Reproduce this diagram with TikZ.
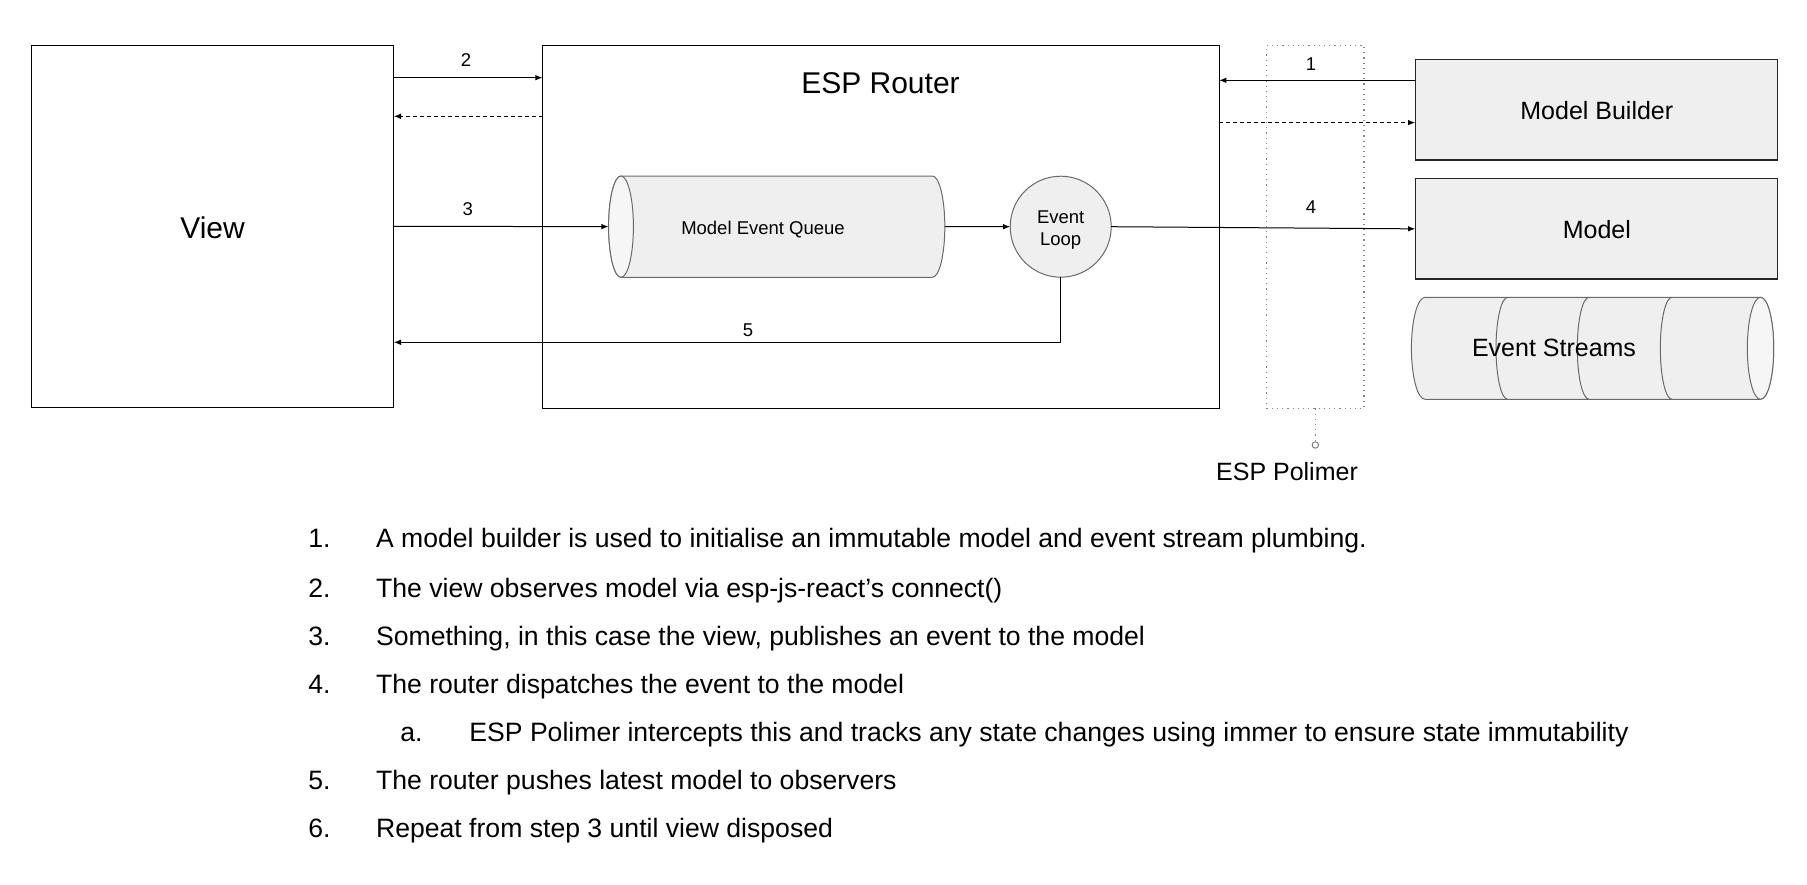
\documentclass[tikz,border=0pt]{standalone}
\usepackage{fontspec}
\setmainfont{Liberation Sans}
\usetikzlibrary{arrows.meta}
\definecolor{boxfill}{HTML}{EFEFEF}
\definecolor{facefill}{HTML}{F6F6F6}
\definecolor{shapeline}{HTML}{6A6A6A}
\definecolor{dotgray}{HTML}{858585}
\newcommand\fsHuge{\fontsize{15}{18}\selectfont}
\newcommand\fsMid{\fontsize{12.5}{15}\selectfont}
\newcommand\fsList{\fontsize{13.3}{16}\selectfont}
\newcommand\fsSmall{\fontsize{9.25}{11}\selectfont}
\begin{document}
\begin{tikzpicture}[x=0.5pt,y=-0.5pt,
  box/.style={draw=black, line width=0.65pt, inner sep=0pt, outer sep=0pt},
  greybox/.style={box, fill=boxfill, draw=black!85},
  ghost/.style={inner sep=0pt, outer sep=0pt},
  cyl/.style={draw=shapeline, line width=0.5pt, fill=boxfill},
  face/.style={draw=shapeline, line width=0.5pt, fill=facefill},
  arr/.style={draw=black, line width=0.5pt, -{Latex[length=3.6pt,width=2.8pt]}},
  dasharr/.style={arr, dash pattern=on 2pt off 1.5pt},
  num/.style={font=\fsSmall, inner sep=0pt},
  listnum/.style={font=\fsList, anchor=base west, inner sep=0pt},
]
\useasboundingbox (0,0) rectangle (1807,884);

% main boxes
\node[box, minimum width=181.2pt, minimum height=181pt] (view) at (212.6,226.3) {};
\node[font=\fsHuge, inner sep=0pt] (viewlbl) at (212.6,227.5) {View};
\node[box, minimum width=338.35pt, minimum height=181.5pt] (router) at (880.85,226.8) {};
\node[font=\fsHuge, inner sep=0pt] (routerlbl) at (880.5,83.3) {ESP Router};

\node[greybox, minimum width=181.2pt, minimum height=50.15pt] (mb) at (1596.4,109.85) {};
\node[font=\fsMid, inner sep=0pt] (mblbl) at (1596.8,111) {Model Builder};
\node[greybox, minimum width=181.2pt, minimum height=50.15pt] (model) at (1596.4,228.85) {};
\node[font=\fsMid, inner sep=0pt] (modellbl) at (1596.8,230) {Model};

% polimer
\node[draw=dotgray, dotted, line width=0.6pt, inner sep=0pt, outer sep=0pt, minimum width=48.7pt, minimum height=181.5pt] (pol) at (1315.3,226.8) {};
\coordinate (poldot) at (1315.3,445);
\draw[dotgray, dotted, line width=0.6pt] (pol.south) -- (poldot);
\draw[dotgray!80!black, line width=0.4pt, fill=white] (poldot) circle[radius=1.6pt];
\node[font=\fsMid, inner sep=0pt] (pollbl) at (1287,472) {ESP Polimer};

% model event queue cylinder
\node[ghost, minimum width=168.1pt, minimum height=50.65pt] (queue) at (776.7,226.65) {};
\draw[cyl] (621,176) -- (932.4,176) arc[start angle=-90, end angle=90, x radius=12.4, y radius=50.65]
  -- (621,277.3) arc[start angle=90, end angle=270, x radius=12.4, y radius=50.65] -- cycle;
\draw[face] (621,226.65) ellipse[x radius=12.4, y radius=50.65];
\node[font=\fsSmall, inner sep=0pt] (queuelbl) at (763,229.5) {Model Event Queue};

% event loop
\node[draw=shapeline, line width=0.5pt, fill=boxfill, circle, minimum size=50.5pt, inner sep=0pt, outer sep=0pt] (loop) at (1060.7,226.7) {};
\node[font=\fsSmall, align=center, inner sep=0pt] (looplbl) at (1060.7,230) {Event\\Loop};

% event streams cylinder
\node[ghost, minimum width=181.15pt, minimum height=51pt] (streams) at (1592.5,348.3) {};
\draw[cyl] (1425,297.3) -- (1760.5,297.3) arc[start angle=-90, end angle=90, x radius=13.2, y radius=51]
  -- (1425,399.3) arc[start angle=90, end angle=270, x radius=13.6, y radius=51] -- cycle;
\foreach \cx in {1507.7,1589,1672}{
  \draw[shapeline, line width=0.5pt] (\cx,297.3) arc[start angle=270, end angle=90, x radius=11.7, y radius=51];
}
\draw[face] (1760.5,348.3) ellipse[x radius=13.2, y radius=51];
\node[font=\fsMid, inner sep=0pt] (streamslbl) at (1554,348) {Event Streams};

% connectors
\draw[arr] (view.east |- 0,77.7) -- (router.west |- 0,77.7);
\node[num] (n2) at (466,60) {2};
\draw[dasharr] (router.west |- 0,116.3) -- (view.east |- 0,116.3);
\draw[arr] (view.east) -- (queue.west);
\node[num] (n3) at (467.7,209) {3};
\draw[arr] (queue.east) -- (loop.west);
\draw[arr] (loop.east) -- (model.west);
\node[num] (n4) at (1311,207) {4};
\draw[arr] (loop.south) |- (view.east |- 0,342.3);
\node[num] (n5) at (748,330) {5};
\draw[arr] (mb.west |- 0,80.3) -- (router.east |- 0,80.3);
\node[num] (n1) at (1311,64) {1};
\draw[dasharr] (router.east |- 0,122.6) -- (mb.west |- 0,122.6);

% list
\node[listnum] (l1n) at (308,547.8) {1.};
\node[listnum] (l1t) at (375.7,547.8) {A model builder is used to initialise an immutable model and event stream plumbing.};
\node[listnum] (l2n) at (308,597.5) {2.};
\node[listnum] (l2t) at (375.7,597.5) {The view observes model via esp-js-react’s connect()};
\node[listnum] (l3n) at (308,645.7) {3.};
\node[listnum] (l3t) at (375.7,645.7) {Something, in this case the view, publishes an event to the model};
\node[listnum] (l4n) at (308,693.2) {4.};
\node[listnum] (l4t) at (375.7,693.2) {The router dispatches the event to the model};
\node[listnum] (lan) at (400,741.7) {a.};
\node[listnum] (lat) at (469,741.7) {ESP Polimer intercepts this and tracks any state changes using immer to ensure state immutability};
\node[listnum] (l5n) at (308,789.2) {5.};
\node[listnum] (l5t) at (375.7,789.2) {The router pushes latest model to observers};
\node[listnum] (l6n) at (308,837.3) {6.};
\node[listnum] (l6t) at (375.7,837.3) {Repeat from step 3 until view disposed};
\end{tikzpicture}
\end{document}
